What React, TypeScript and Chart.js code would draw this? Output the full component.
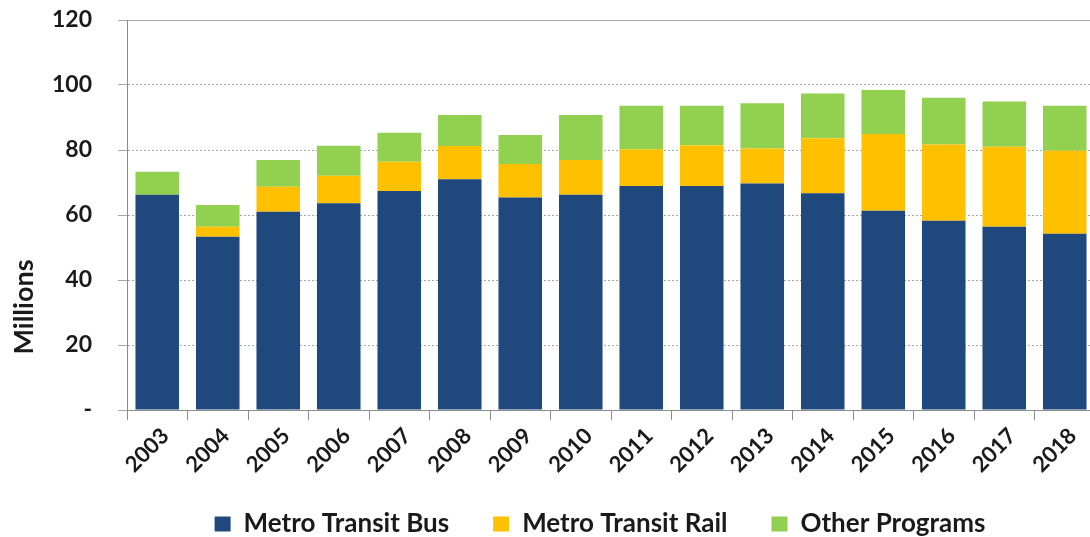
import React, { useEffect, useRef } from 'react';
import { Chart, registerables } from 'chart.js';

Chart.register(...registerables);

const years = ['2003', '2004', '2005', '2006', '2007', '2008', '2009', '2010', '2011', '2012', '2013', '2014', '2015', '2016', '2017', '2018'];
const busValues = [66.2, 53.3, 61.0, 63.6, 67.4, 71.0, 65.4, 66.2, 68.9, 68.9, 69.7, 66.7, 61.3, 58.2, 56.4, 54.2];
const railValues = [0, 3.1, 7.7, 8.5, 9.0, 10.2, 10.3, 10.7, 11.3, 12.6, 10.8, 16.9, 23.6, 23.5, 24.6, 25.6];
const otherValues = [7.1, 6.7, 8.2, 9.2, 8.9, 9.6, 8.9, 13.9, 13.4, 12.1, 13.9, 13.8, 13.6, 14.4, 13.9, 13.8];
const seriesNames = ['Metro Transit Bus', 'Metro Transit Rail', 'Other Programs'];
const seriesColors = ['#1F497D', '#FFC000', '#92D050'];
const yMin = 0;
const yMax = 120;
const yStep = 20;
const yAxisTitle = 'Millions';

const FONT = 'Lato, "Noto Sans", sans-serif';
const TEXT = '#1a1a1a';
const CANVAS_W = 1100;
const CANVAS_H = 537;
const PLOT_TOP = 20;
const PLOT_BOTTOM = 410;
const LEGEND_PAD = 44;
const LEGEND_FONT = 26;
const LEGEND_TEXT_Y = 524;
const LEGEND_CENTER = 600;

const titlePlugin = {
  id: 'yTitle',
  afterDraw(chart: any) {
    const ctx = chart.ctx;
    ctx.save();
    ctx.translate(24, 307);
    ctx.rotate(-Math.PI / 2);
    ctx.font = `bold 27px ${FONT}`;
    ctx.fillStyle = TEXT;
    ctx.textAlign = 'center';
    ctx.textBaseline = 'middle';
    ctx.fillText(yAxisTitle, 0, 0);
    ctx.restore();
  },
};

const layoutFixPlugin = {
  id: 'layoutFix',
  afterLayout(chart: any) {
    const lg = chart.legend;
    if (lg) {
      const h = lg.bottom - lg.top;
      const halfW = 700;
      lg.left = LEGEND_CENTER - halfW;
      lg.right = LEGEND_CENTER + halfW;
      lg.width = halfW * 2;
      lg.top = LEGEND_TEXT_Y - LEGEND_PAD - LEGEND_FONT / 2;
      lg.bottom = lg.top + h;
    }
    const xs = chart.scales && chart.scales.x;
    if (xs) {
      xs.bottom = CANVAS_H;
    }
  },
};

export default function App() {
  const ref = useRef<HTMLCanvasElement | null>(null);

  useEffect(() => {
    if (!ref.current) return;
    const values = [busValues, railValues, otherValues];
    const chart = new Chart(ref.current, {
      type: 'bar',
      data: {
        labels: years,
        datasets: seriesNames.map((name, i) => ({
          label: name,
          data: values[i],
          backgroundColor: seriesColors[i],
          borderWidth: 0,
          barPercentage: 0.72,
          categoryPercentage: 1,
        })),
      },
      options: {
        responsive: false,
        animation: false,
        layout: { padding: { top: PLOT_TOP, right: 5, left: 0, bottom: 0 } },
        plugins: {
          legend: {
            position: 'bottom',
            labels: {
              boxWidth: 16,
              boxHeight: 15,
              padding: LEGEND_PAD,
              color: TEXT,
              font: { family: FONT, size: LEGEND_FONT, weight: 'bold' },
            },
          },
          tooltip: { enabled: false },
        },
        scales: {
          x: {
            stacked: true,
            afterFit: (scale: any) => {
              const lh = scale.chart.legend ? scale.chart.legend.height : 0;
              scale.height = Math.max(0, CANVAS_H - PLOT_BOTTOM - lh);
            },
            grid: {
              display: true,
              drawOnChartArea: false,
              drawTicks: true,
              tickLength: 10,
              color: '#8c8c8c',
              offset: true,
            },
            border: { display: true, color: '#8c8c8c', width: 1 },
            ticks: {
              autoSkip: false,
              maxRotation: 45,
              minRotation: 45,
              labelOffset: 8,
              padding: 3,
              color: TEXT,
              font: { family: FONT, size: 22, weight: 'bold' },
            },
          },
          y: {
            stacked: true,
            min: yMin,
            max: yMax,
            afterFit: (scale: any) => {
              scale.width = 127;
              scale.paddingTop = PLOT_TOP;
              scale.paddingBottom = 0;
            },
            grid: {
              display: true,
              drawOnChartArea: true,
              drawTicks: true,
              tickLength: 9,
              color: '#a6a6a6',
              lineWidth: 1,
            },
            border: {
              display: true,
              color: '#8c8c8c',
              width: 1,
              dash: (ctx: any) => (ctx.tick && ctx.tick.value === yMax ? [] : [2, 2]),
            },
            ticks: {
              stepSize: yStep,
              padding: 26,
              color: TEXT,
              font: { family: FONT, size: 23, weight: 'bold' },
              callback: (v: any) => (Number(v) === 0 ? '-' : String(v)),
            },
          },
        },
      },
      plugins: [titlePlugin, layoutFixPlugin],
    });
    return () => chart.destroy();
  }, []);

  return (
    <div style={{ position: 'fixed', left: 0, top: 0, width: 1090, height: 537, overflow: 'hidden', background: '#fff' }}>
      <canvas ref={ref} width={CANVAS_W} height={CANVAS_H} style={{ display: 'block', width: CANVAS_W, height: CANVAS_H }} />
    </div>
  );
}
